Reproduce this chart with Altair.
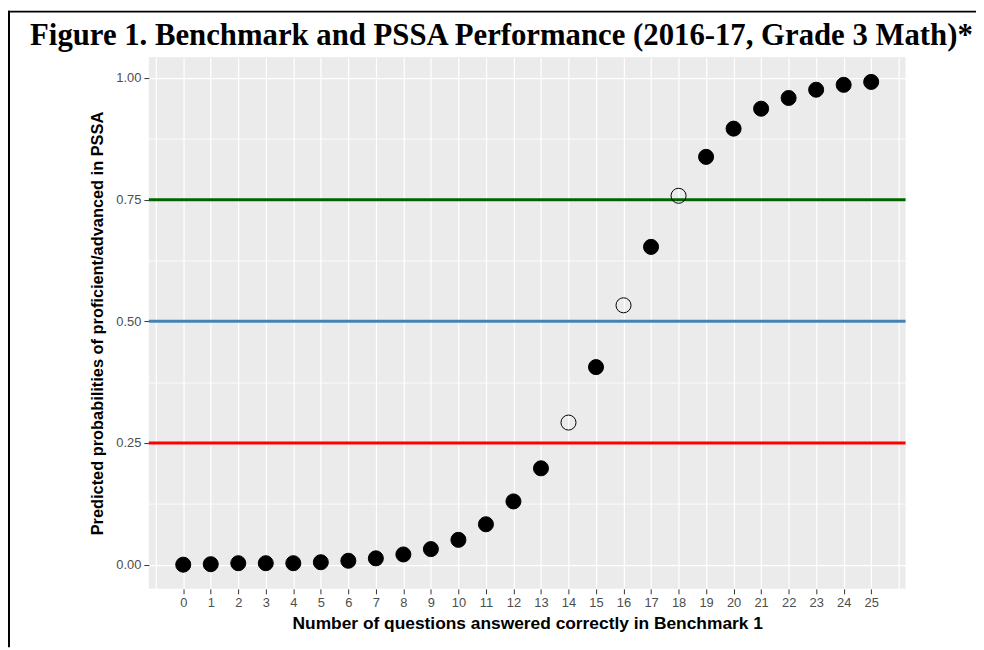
import altair as alt
import pandas as pd

# ---- data ----
questions = list(range(26))
probabilities = [0.000, 0.001, 0.003, 0.003, 0.003, 0.005, 0.008, 0.013, 0.021, 0.032,
                 0.051, 0.083, 0.130, 0.198, 0.292, 0.406, 0.533, 0.653, 0.758, 0.838,
                 0.896, 0.937, 0.959, 0.976, 0.986, 0.992]
open_points = [14, 16, 18]
markers = ["open" if q in open_points else "filled" for q in questions]

thresholds = [0.25, 0.50, 0.75]
threshold_names = ["low", "mid", "high"]
threshold_colors = ["#FF0000", "#4682B4", "#006400"]

x_grid = [-1 + 0.5 * i for i in range(55)]          # -1 ... 26 by 0.5
y_grid = [0.125 * i for i in range(9)]              # 0 ... 1 by 0.125

title_text = "Figure 1. Benchmark and PSSA Performance (2016-17, Grade 3 Math)*"
x_title = "Number of questions answered correctly in Benchmark 1"
y_title = "Predicted probabilities of proficient/advanced in PSSA"

df = pd.DataFrame({"q": questions, "p": probabilities, "marker": markers})
thr = pd.DataFrame({"y": thresholds, "name": threshold_names})

W, H = 763, 536
PAD = {"left": 142, "top": 47, "right": 71, "bottom": 59}

x_scale = alt.Scale(domain=[-1.25, 26.25], nice=False, zero=False)
y_scale = alt.Scale(domain=[-0.0497, 1.0427], nice=False, zero=False)

x_axis = alt.Axis(
    values=x_grid,
    title=x_title,
    labelExpr="(datum.value >= 0 && datum.value <= 25 && datum.value % 1 == 0) ? datum.label : ''",
    format="d",
    tickOpacity={"condition": {"test": "datum.value < 0 || datum.value > 25 || datum.value % 1 != 0", "value": 0}, "value": 1},
    gridWidth={"condition": {"test": "datum.value % 1 != 0", "value": 0.8}, "value": 1.2},
    grid=True,
)
y_axis = alt.Axis(
    values=y_grid,
    title=y_title,
    format=".2f",
    labelExpr="(datum.value % 0.25 == 0) ? datum.label : ''",
    tickOpacity={"condition": {"test": "datum.value % 0.25 != 0", "value": 0}, "value": 1},
    gridWidth={"condition": {"test": "datum.value % 0.25 != 0", "value": 0.8}, "value": 1.2},
    grid=True,
)

points = alt.Chart(df).mark_circle(size=230, stroke="black", strokeWidth=1, opacity=1, fillOpacity=1).encode(
    x=alt.X("q:Q", scale=x_scale, axis=x_axis),
    y=alt.Y("p:Q", scale=y_scale, axis=y_axis),
    fill=alt.Fill("marker:N", scale=alt.Scale(domain=["filled", "open"], range=["black", "transparent"]), legend=None),
)

hlines = alt.Chart(thr).mark_rule(strokeWidth=3).encode(
    y=alt.Y("y:Q", scale=y_scale),
    color=alt.Color("name:N", scale=alt.Scale(domain=threshold_names, range=threshold_colors), legend=None),
)

frame_data = alt.Data(values=[{"k": 1}])
left_border = alt.Chart(frame_data).mark_rule(color="black", strokeWidth=2).encode(
    x=alt.value(-141), y=alt.value(-47), y2=alt.value(H + PAD["bottom"])
)
top_border = alt.Chart(frame_data).mark_rule(color="black", strokeWidth=2).encode(
    x=alt.value(-142), x2=alt.value(W + PAD["right"]), y=alt.value(-46)
)

chart = alt.layer(hlines, points, left_border, top_border).properties(
    width=W,
    height=H,
    padding=PAD,
    background="white",
    autosize=alt.AutoSizeParams(type="none"),
    title=alt.TitleParams(
        text=title_text,
        font="Liberation Serif",
        fontSize=31,
        fontWeight="bold",
        color="black",
        anchor="middle",
        baseline="bottom",
        dx=-26,
        dy=83,
        offset=9,
    ),
).configure_view(
    fill="#EBEBEB", stroke=None
).configure_axis(
    domain=False,
    gridColor="white",
    labelColor="#4D4D4D",
    labelFont="Liberation Sans",
    labelFontSize=13,
    tickColor="#333333",
    tickSize=5,
    tickWidth=1,
    labelPadding=3,
    titleFont="Liberation Sans",
    titleFontWeight="bold",
    titleColor="black",
).configure_axisX(
    titleFontSize=17.5, titlePadding=5
).configure_axisY(
    titleFontSize=16.5, titlePadding=10
)

chart.save("out.html", embed_options={"renderer": "svg", "actions": False})
